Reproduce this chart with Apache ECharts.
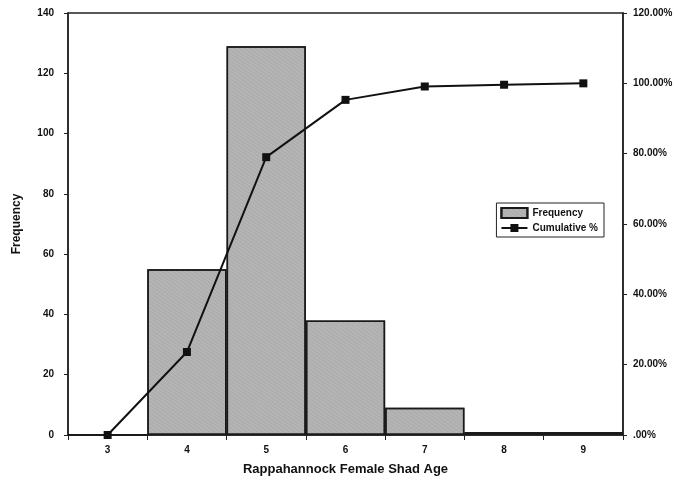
<!DOCTYPE html>
<html>
<head>
<meta charset="utf-8">
<script src="https://cdn.jsdelivr.net/npm/echarts@6/dist/echarts.min.js"></script>
<style>
  html, body { margin: 0; padding: 0; background: #fff; }
  #chart { width: 684px; height: 485px; }
</style>
</head>
<body>
<div id="chart"></div>
<script>
// ages on the x axis
var ages = ['3', '4', '5', '6', '7', '8', '9'];
// fish counts per age
var frequency = [0, 55, 129, 38, 9, 1, 1];
// cumulative percent per age
var cumulative = [0, 23.6, 79.0, 95.3, 99.1, 99.6, 100];

var font = 'Liberation Sans, Arial, sans-serif';

var mChart = echarts.init(document.getElementById('chart'));
var option = {
  backgroundColor: '#fff',
  animation: false,
  grid: { left: 68, right: 61, top: 13, bottom: 50, show: true, borderColor: '#222', borderWidth: 1.5 },
  legend: {
    right: 80, top: 203,
    orient: 'vertical',
    backgroundColor: '#fff',
    borderColor: '#222', borderWidth: 1,
    padding: [4, 6, 4, 4],
    itemGap: 4,
    itemWidth: 26, itemHeight: 10,
    textStyle: { fontFamily: font, fontWeight: 'bold', fontSize: 10, color: '#111' },
    data: [
      { name: 'Frequency', icon: 'rect' },
      { name: 'Cumulative %' }
    ]
  },
  xAxis: {
    type: 'category',
    data: ages,
    name: 'Rappahannock Female Shad Age',
    nameLocation: 'middle',
    nameGap: 28,
    nameTextStyle: { fontFamily: font, fontWeight: 'bold', fontSize: 13, color: '#111' },
    axisLine: { lineStyle: { color: '#222', width: 1.5 } },
    axisTick: { show: true, length: 5, lineStyle: { color: '#222' } },
    axisLabel: { fontFamily: font, fontWeight: 'bold', fontSize: 10, color: '#111', margin: 10 }
  },
  yAxis: [
    {
      type: 'value', min: 0, max: 140, interval: 20,
      name: 'Frequency',
      nameLocation: 'middle',
      nameGap: 45,
      nameTextStyle: { fontFamily: font, fontWeight: 'bold', fontSize: 12, color: '#111' },
      axisLine: { show: true, lineStyle: { color: '#222', width: 1.5 } },
      axisTick: { show: true, length: 4, lineStyle: { color: '#222' } },
      splitLine: { show: false },
      axisLabel: { fontFamily: font, fontWeight: 'bold', fontSize: 10, color: '#111', margin: 14 }
    },
    {
      type: 'value', min: 0, max: 120, interval: 20,
      position: 'right',
      axisLine: { show: true, lineStyle: { color: '#222', width: 1.5 } },
      axisTick: { show: true, length: 4, lineStyle: { color: '#222' } },
      splitLine: { show: false },
      axisLabel: {
        fontFamily: font, fontWeight: 'bold', fontSize: 10, color: '#111', margin: 10,
        formatter: function (v) { return v === 0 ? '.00%' : v.toFixed(2) + '%'; }
      }
    }
  ],
  series: [
    {
      name: 'Frequency',
      type: 'bar',
      data: frequency,
      barCategoryGap: 0,
      itemStyle: {
        color: '#b8b8b8',
        borderColor: '#1a1a1a',
        borderWidth: 1.5,
        decal: { symbol: 'rect', symbolSize: 0.6, dashArrayX: [1, 0], dashArrayY: [2, 1], color: 'rgba(90,90,90,0.35)', rotation: 0.6 }
      }
    },
    {
      name: 'Cumulative %',
      type: 'line',
      yAxisIndex: 1,
      data: cumulative,
      symbol: 'rect',
      symbolSize: 8,
      lineStyle: { color: '#111', width: 2 },
      itemStyle: { color: '#111' }
    }
  ]
};
mChart.setOption(option);
</script>
</body>
</html>
